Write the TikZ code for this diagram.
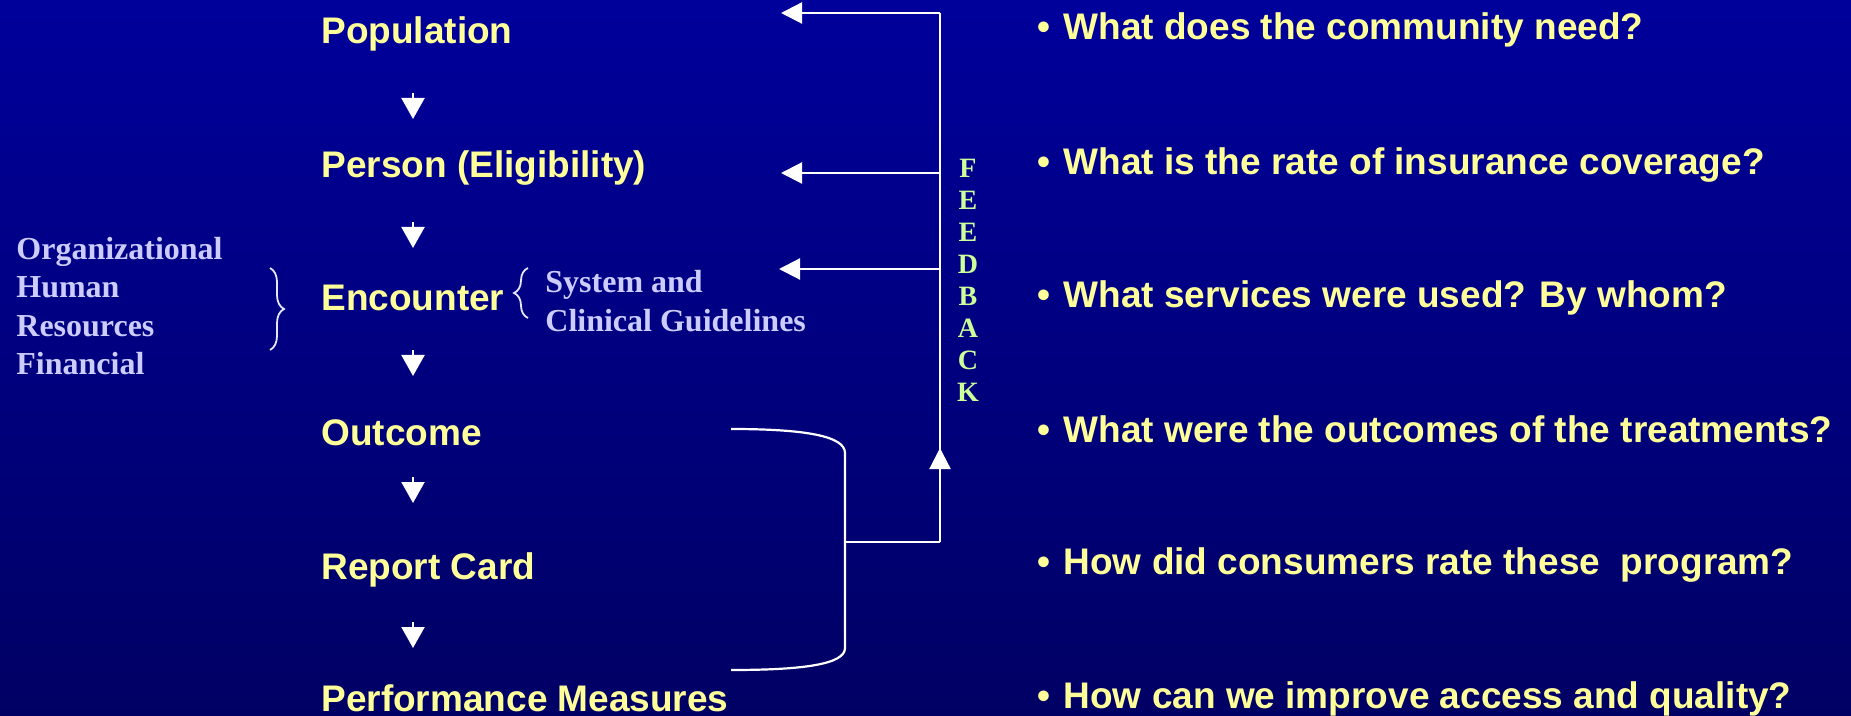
\documentclass[tikz,border=0pt]{standalone}
\usepackage{fontspec}
\setmainfont{Liberation Serif}
\newfontfamily\arialfont{Liberation Sans}
\usetikzlibrary{arrows.meta,decorations.pathreplacing}
\definecolor{bgtop}{RGB}{0,0,155}
\definecolor{bgbot}{RGB}{0,0,100}
\definecolor{ylw}{RGB}{255,255,153}
\definecolor{lav}{RGB}{204,204,255}
\definecolor{fbgreen}{RGB}{204,255,153}
\tikzset{
  mainlbl/.style={anchor=base west, inner sep=0pt, text=ylw, font=\arialfont\bfseries\fontsize{18.5}{22}\selectfont},
  sidelbl/.style={anchor=base west, inner sep=0pt, text=lav, font=\bfseries\fontsize{16}{19}\selectfont},
  fbletter/.style={anchor=base, inner sep=0pt, text=fbgreen, font=\bfseries\fontsize{14}{16}\selectfont},
  wline/.style={draw=white, line width=1.1pt},
  flowarrow/.style={wline, -{Triangle[length=10.5pt,width=11.5pt]}},
  fbarrow/.style={wline, -{Triangle[length=10.5pt,width=10.5pt]}},
  bracestyle/.style={draw=lav!50!white, line width=0.9pt, decorate, decoration={brace, amplitude=7pt}}
}
\begin{document}
\begin{tikzpicture}[x=0.5pt, y=-0.5pt]
\useasboundingbox (0,0) rectangle (1851,716);
\fill[top color=bgtop, bottom color=bgbot] (0,0) rectangle (1851,716);

% main flow
\node[mainlbl] (pop)  at (321,44)  {Population};
\node[mainlbl] (per)  at (321,178) {Person (Eligibility)};
\node[mainlbl] (enc)  at (321,311) {Encounter};
\node[mainlbl] (out)  at (321,445) {Outcome};
\node[mainlbl] (rep)  at (321,579) {Report Card};
\node[mainlbl] (perf) at (321,711) {Performance Measures};

% short down arrows
\coordinate (a1s) at (413,93);  \coordinate (a1e) at (413,119);
\coordinate (a2s) at (413,222); \coordinate (a2e) at (413,248);
\coordinate (a3s) at (413,350); \coordinate (a3e) at (413,376);
\coordinate (a4s) at (413,477); \coordinate (a4e) at (413,503);
\coordinate (a5s) at (413,622); \coordinate (a5e) at (413,648);
\draw[flowarrow] (a1s) -- (a1e);
\draw[flowarrow] (a2s) -- (a2e);
\draw[flowarrow] (a3s) -- (a3e);
\draw[flowarrow] (a4s) -- (a4e);
\draw[flowarrow] (a5s) -- (a5e);

% left resources
\node[sidelbl] (org) at (16,260) {Organizational};
\node[sidelbl] (hum) at (16,298) {Human};
\node[sidelbl] (res) at (16,337) {Resources};
\node[sidelbl] (fin) at (16,375) {Financial};
\coordinate (rbT) at (270,268);
\coordinate (rbB) at (270,350);
\draw[bracestyle] (rbT) -- (rbB);

% system and clinical guidelines
\coordinate (lbT) at (528,268);
\coordinate (lbB) at (528,318);
\draw[bracestyle] (lbB) -- (lbT);
\node[sidelbl] (sys) at (545,293) {System and};
\node[sidelbl] (cli) at (545,332) {Clinical Guidelines};

% feedback
\coordinate (fbT)  at (940,13);
\coordinate (fbM1) at (940,173);
\coordinate (fbM2) at (940,269);
\coordinate (fbB)  at (940,542);
\coordinate (t1) at (781,13);
\coordinate (t2) at (781,173);
\coordinate (t3) at (779,269);
\draw[wline] (fbT) -- (fbB);
\draw[fbarrow] (fbT) -- (t1);
\draw[fbarrow] (fbM1) -- (t2);
\draw[fbarrow] (fbM2) -- (t3);

% bracket for outcome / report / performance
\coordinate (brT) at (731,429);
\coordinate (brB) at (731,670);
\coordinate (brM) at (845,542);
\coordinate (upT) at (940,448);
\draw[wline] (brT) .. controls (805,429) and (845,436) .. (845,453) -- (845,648) .. controls (845,664) and (805,670) .. (brB);
\draw[wline] (brM) -- (fbB);
\draw[fbarrow] (fbB) -- (upT);

% FEEDBACK letters
\foreach \L [count=\i] in {F,E,E,D,B,A,C,K} {
  \node[fbletter] (fb\i) at (968,{178+31.9*(\i-1)}) {\L};
}

% questions
\node[mainlbl] (q1) at (1037,40)  {•\hspace{1.5pt} What does the community need?};
\node[mainlbl] (q2) at (1037,175) {•\hspace{1.5pt} What is the rate of insurance coverage?};
\node[mainlbl] (q3) at (1037,308) {•\hspace{1.5pt} What services were used? By whom?};
\node[mainlbl] (q4) at (1037,442) {•\hspace{1.5pt} What were the outcomes of the treatments?};
\node[mainlbl] (q5) at (1037,574) {•\hspace{1.5pt} How did consumers rate these\ \ program?};
\node[mainlbl] (q6) at (1037,708) {•\hspace{1.5pt} How can we improve access and quality?};
\end{tikzpicture}
\end{document}
